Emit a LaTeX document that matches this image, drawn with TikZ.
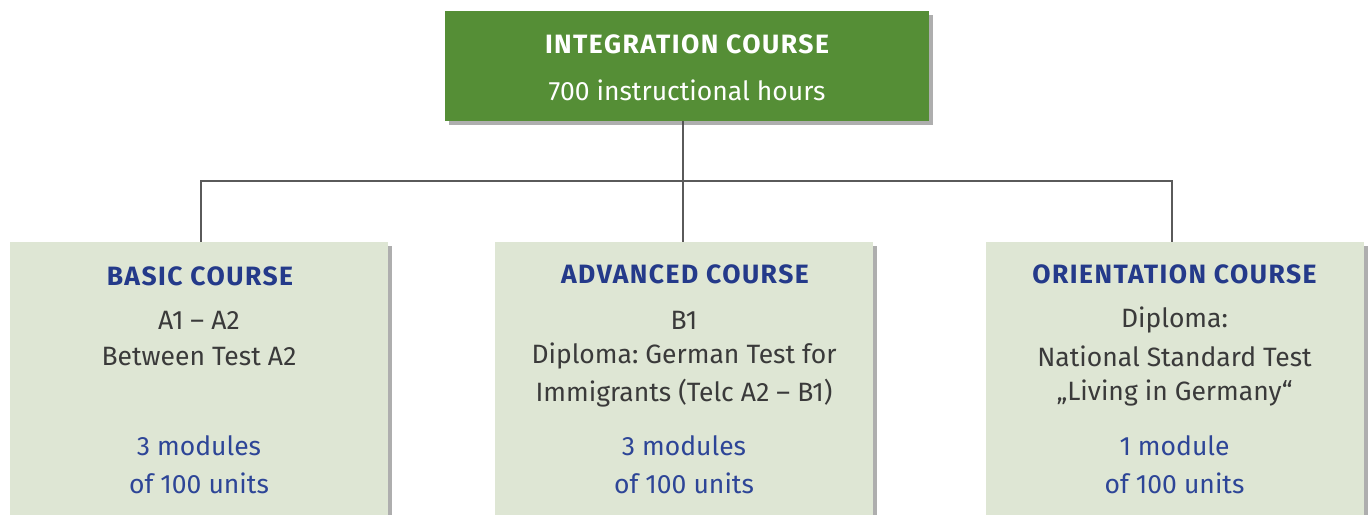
\documentclass[tikz,border=0pt]{standalone}
\usepackage{fontspec}
\setmainfont{Fira Sans}
\frenchspacing
\usetikzlibrary{shadows}
\definecolor{topgreen}{HTML}{558E36}
\definecolor{boxbg}{HTML}{DEE6D4}
\definecolor{titleblue}{HTML}{243A8A}
\definecolor{modblue}{HTML}{2D4597}
\definecolor{bodytxt}{HTML}{3A3A3A}
\definecolor{linegray}{HTML}{5A5A5A}
\newcommand{\titlefont}{\fontsize{26.5}{30}\selectfont\bfseries\addfontfeatures{LetterSpace=5.5}}
\newcommand{\plainfont}{\fontsize{26.5}{30}\selectfont}
\tikzset{
  shad/.style={drop shadow={shadow xshift=4pt, shadow yshift=-4pt, opacity=0.45, fill=black!70}},
  topbox/.style={rectangle, fill=topgreen, minimum width=484pt, minimum height=110pt, inner sep=0pt, shad},
  coursebox/.style={rectangle, fill=boxbg, minimum width=378pt, minimum height=300pt, inner sep=0pt, anchor=north, shad},
  toptitle/.style={font=\titlefont, text=white},
  toptext/.style={font=\plainfont, text=white},
  ctitle/.style={font=\titlefont, text=titleblue},
  ctext/.style={font=\plainfont, text=bodytxt},
  cmod/.style={font=\plainfont, text=modblue},
  conn/.style={draw=linegray, line width=2pt}
}
\begin{document}
\begin{tikzpicture}[x=1pt,y=-1pt]
\useasboundingbox (0,0) rectangle (1370,514);
\clip (0,0) rectangle (1370,514);
% connectors
\coordinate (topout) at (683,121);
\coordinate (bus) at (683,181);
\coordinate (inA) at (201,242);
\coordinate (inB) at (683,242);
\coordinate (inC) at (1172,242);
\draw[conn] (topout) -- (bus);
\draw[conn] (inA) -- (inA |- bus) -- (inC |- bus) -- (inC);
\draw[conn] (bus) -- (inB);
% boxes
\node[topbox] (top) at (687,66) {};
\node[coursebox] (basic) at (199,242) {};
\node[coursebox] (adv) at (684,242) {};
\node[coursebox] (orient) at (1174.5,242) {};
% top text
\node[toptitle] (t1) at (687,44) {INTEGRATION COURSE};
\node[toptext] (t2) at (687,90) {700 instructional hours};
% basic
\node[ctitle] (b1) at (200,276) {BASIC COURSE};
\node[ctext] (b2) at (199,320) {A1 – A2};
\node[ctext] (b3) at (199,357) {Between Test A2};
\node[cmod] (b4) at (199,446) {3 modules};
\node[cmod] (b5) at (199,483) {of 100 units};
% advanced
\node[ctitle] (a1) at (685,274) {ADVANCED COURSE};
\node[ctext] (a2) at (684,320) {B1};
\node[ctext] (a3) at (684,356) {Diploma: German Test for};
\node[ctext] (a4) at (684,393) {Immigrants (Telc A2 – B1)};
\node[cmod] (a5) at (684,446) {3 modules};
\node[cmod] (a6) at (684,483) {of 100 units};
% orientation
\node[ctitle] (o1) at (1174.5,274) {ORIENTATION COURSE};
\node[ctext] (o2) at (1174.5,320) {Diploma:};
\node[ctext] (o3) at (1174.5,356) {National Standard Test};
\node[ctext] (o4) at (1174.5,393) {„Living in Germany“};
\node[cmod] (o5) at (1174.5,446) {1 module};
\node[cmod] (o6) at (1174.5,483) {of 100 units};
\end{tikzpicture}
\end{document}
